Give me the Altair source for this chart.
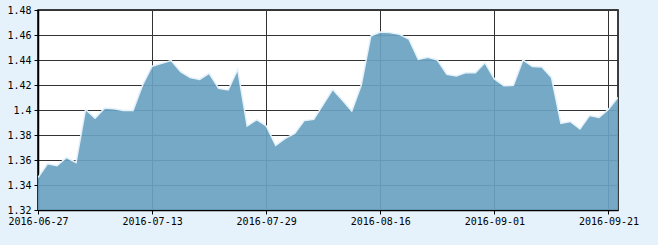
import altair as alt
import pandas as pd

dates = [
    "2016-06-27", "2016-06-28", "2016-06-29", "2016-06-30",
    "2016-07-01", "2016-07-04", "2016-07-05", "2016-07-06", "2016-07-07", "2016-07-08",
    "2016-07-11", "2016-07-12", "2016-07-13", "2016-07-14", "2016-07-15",
    "2016-07-18", "2016-07-19", "2016-07-20", "2016-07-21", "2016-07-22",
    "2016-07-25", "2016-07-26", "2016-07-27", "2016-07-28", "2016-07-29",
    "2016-08-01", "2016-08-02", "2016-08-03", "2016-08-04", "2016-08-05",
    "2016-08-08", "2016-08-09", "2016-08-10", "2016-08-11", "2016-08-12",
    "2016-08-15", "2016-08-16", "2016-08-17", "2016-08-18", "2016-08-19",
    "2016-08-22", "2016-08-23", "2016-08-24", "2016-08-25", "2016-08-26",
    "2016-08-29", "2016-08-30", "2016-08-31", "2016-09-01", "2016-09-02",
    "2016-09-05", "2016-09-06", "2016-09-07", "2016-09-08", "2016-09-09",
    "2016-09-12", "2016-09-13", "2016-09-14", "2016-09-19", "2016-09-20",
    "2016-09-21", "2016-09-22",
]

values = [
    1.346, 1.357, 1.3555, 1.362, 1.358, 1.4005, 1.3935, 1.4015, 1.401, 1.3997,
    1.3997, 1.420, 1.435, 1.4373, 1.4395, 1.4307, 1.4259, 1.4245, 1.4293, 1.4173,
    1.416, 1.4325, 1.3872, 1.3923, 1.3872, 1.3717, 1.3773, 1.3813, 1.3915, 1.3925,
    1.4045, 1.4165, 1.408, 1.3992, 1.420, 1.4592, 1.4624, 1.4619, 1.4605, 1.4568,
    1.4405, 1.4421, 1.440, 1.4285, 1.4272, 1.4299, 1.4299, 1.4379, 1.4248, 1.4195,
    1.4197, 1.440, 1.4347, 1.4344, 1.4261, 1.3893, 1.3907, 1.3848, 1.3955, 1.3941,
    1.4006, 1.4101,
]

x_tick_labels = ["2016-06-27", "2016-07-13", "2016-07-29", "2016-08-16", "2016-09-01", "2016-09-21"]
y_ticks = [1.32, 1.34, 1.36, 1.38, 1.40, 1.42, 1.44, 1.46, 1.48]

df = pd.DataFrame({"date": dates, "value": values})

FONT = "DejaVu Sans Mono"

x_enc = alt.X(
    "date:O",
    sort=dates,
    scale=alt.Scale(type="point", padding=0),
    axis=alt.Axis(
        values=x_tick_labels, labelAngle=0, labelOverlap=False, title=None,
        grid=True, gridColor="#333333", gridWidth=1,
        domain=True, domainColor="#000000", domainWidth=1.5,
        tickColor="#000000", tickSize=4, labelPadding=2,
        labelFont=FONT, labelFontSize=10, labelColor="#000000",
    ),
)
y_enc = alt.Y(
    "value:Q",
    scale=alt.Scale(domain=[1.32, 1.48], zero=False, nice=False),
    axis=alt.Axis(
        values=y_ticks, format=".2~f", title=None, labelOverlap=False,
        labelFlush=False,
        grid=True, gridColor="#333333", gridWidth=1,
        domain=True, domainColor="#000000", domainWidth=1.5,
        tickColor="#000000", tickSize=4, labelPadding=3,
        labelFont=FONT, labelFontSize=10, labelColor="#000000",
    ),
)

base = alt.Chart(df).encode(x=x_enc, y=y_enc)

area = base.mark_area(
    color="#6aa2c1", opacity=0.92, interpolate="linear", clip=True
)
edge = base.mark_line(color="#e4f1fa", strokeWidth=1.5, clip=True)

chart = (
    alt.layer(area, edge)
    .properties(
        width=580, height=200,
        background="#e6f2fb",
        autosize=alt.AutoSizeParams(type="none"),
        padding={"left": 38, "top": 10, "right": 40, "bottom": 35},
    )
    .configure_view(stroke="#000000", strokeWidth=1.5, fill="#ffffff")
)

chart.save("out.html", embed_options={"renderer": "svg", "actions": False})
